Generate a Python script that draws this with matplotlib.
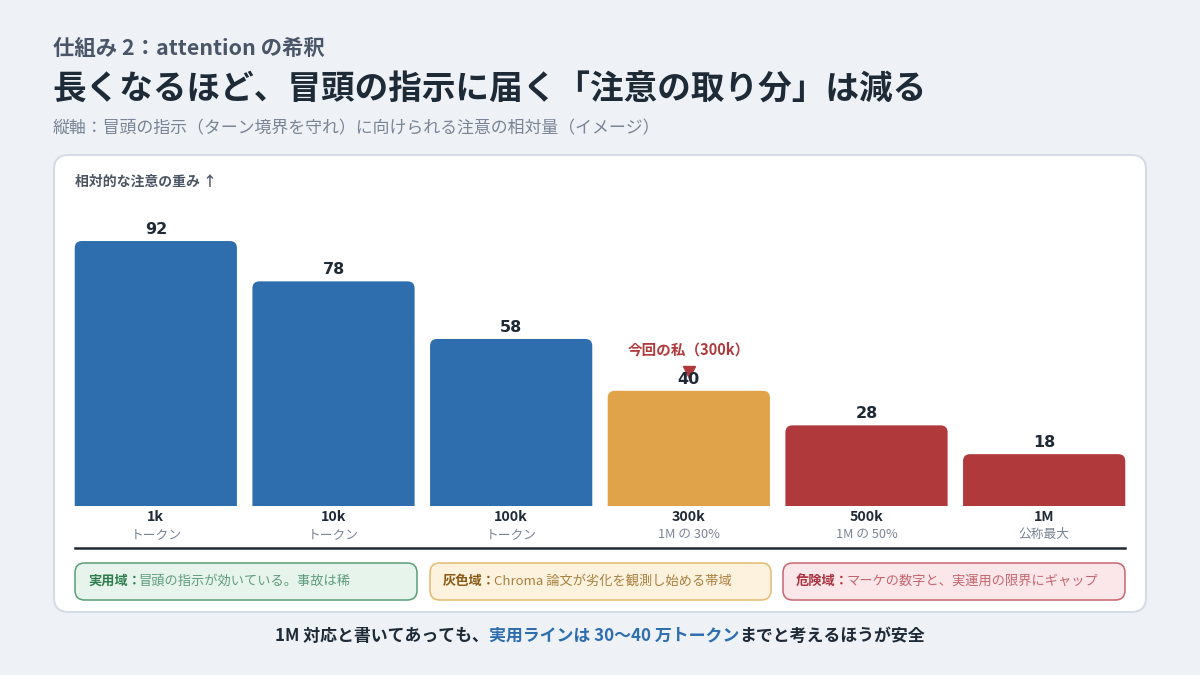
import matplotlib.pyplot as plt
import matplotlib.transforms as mtransforms
from matplotlib.patches import FancyBboxPatch, PathPatch
from matplotlib.path import Path

plt.rcParams['font.family'] = ['Noto Sans CJK JP', 'DejaVu Sans']

# data
sizes = ["1k", "10k", "100k", "300k", "500k", "1M"]
notes = ["トークン", "トークン", "トークン", "1M の 30%", "1M の 50%", "公称最大"]
weights = [92, 78, 58, 40, 28, 18]
zones = ["ok", "ok", "ok", "gray", "risk", "risk"]
marker_idx = 3
marker_label = "今回の私（300k）"
legend_heads = ["実用域", "灰色域", "危険域"]
legend_bodies = ["冒頭の指示が効いている。事故は稀",
                 "Chroma 論文が劣化を観測し始める帯域",
                 "マーケの数字と、実運用の限界にギャップ"]

bar_colors = {"ok": "#2E6EAE", "gray": "#E0A34A", "risk": "#B03A3B"}
W, H = 1200, 675
BG = "#EEF2F7"
DARK = "#1F2A37"


def fx(x):
    return x / W


def fy(y):
    return 1 - y / H


def top_rounded_bar(xc, width, height, rx, ry):
    x0, x1 = xc - width / 2, xc + width / 2
    verts = [(x0, 0), (x0, height - ry), (x0, height), (x0 + rx, height),
             (x1 - rx, height), (x1, height), (x1, height - ry), (x1, 0), (x0, 0)]
    codes = [Path.MOVETO, Path.LINETO, Path.CURVE3, Path.CURVE3,
             Path.LINETO, Path.CURVE3, Path.CURVE3, Path.LINETO, Path.CLOSEPOLY]
    return Path(verts, codes)


fig = plt.figure(figsize=(12, 6.75), dpi=100, facecolor=BG)

# header
fig.text(fx(53), fy(48), "仕組み 2：attention の希釈", fontsize=15.4, color="#4A5568",
         fontweight="bold", va="center", ha="left")
fig.text(fx(52), fy(90), "長くなるほど、冒頭の指示に届く「注意の取り分」は減る", fontsize=24.2,
         color=DARK, fontweight="bold", va="center", ha="left")
fig.text(fx(53), fy(128), "縦軸：冒頭の指示（ターン境界を守れ）に向けられる注意の相対量（イメージ）",
         fontsize=12.2, color="#7A8494", va="center", ha="left")

# card
card = FancyBboxPatch((fx(54), fy(612)), fx(1092), 457 / H,
                      boxstyle="round,pad=0,rounding_size=0.012",
                      mutation_aspect=W / H,
                      transform=fig.transFigure, facecolor="white",
                      edgecolor="#D5DCE6", linewidth=1.5, zorder=-1)
fig.patches.append(card)

fig.text(fx(75), fy(182), "相対的な注意の重み ↑", fontsize=10, color="#4B5563",
         fontweight="bold", va="center", ha="left")

# bars
left_px, right_px = 67, 1133
base_px, top_px = 506, 200
px_y = 2.88
ax = fig.add_axes([fx(left_px), fy(base_px), (right_px - left_px) / W, (base_px - top_px) / H])
ax.set_facecolor("none")
ax.set_zorder(2)
ax.set_xlim(-0.5, len(sizes) - 0.5)
ax.set_ylim(0, (base_px - top_px) / px_y)
ax.axis("off")

bw = 0.913
px_x = (right_px - left_px) / len(sizes)
r_px = 7
tr = mtransforms.blended_transform_factory(ax.transData, ax.transAxes)
for i, (v, z) in enumerate(zip(weights, zones)):
    c = bar_colors[z]
    ax.add_patch(PathPatch(top_rounded_bar(i, bw, v, r_px / px_x, r_px / px_y),
                           facecolor=c, edgecolor="none"))
    ax.annotate(str(v), (i, v), xytext=(0, 3), textcoords="offset points",
                ha="center", va="bottom", fontsize=11.5, fontweight="bold", color=DARK,
                family=["DejaVu Sans"], zorder=5)
    ax.annotate(sizes[i], (i, 0), xycoords=tr, xytext=(0, -8), textcoords="offset points",
                ha="center", va="center", fontsize=10.3, fontweight="bold", color=DARK,
                annotation_clip=False)
    ax.annotate(notes[i], (i, 0), xycoords=tr, xytext=(0, -20.5), textcoords="offset points",
                ha="center", va="center", fontsize=9.2, color="#7A8494",
                annotation_clip=False)

# marker for current position
mv = weights[marker_idx]
tri = mtransforms.offset_copy(ax.transData, fig=fig, x=0, y=13.5, units="points")
ax.plot([marker_idx], [mv], marker="v", markersize=8, color="#B03A3B",
        transform=tri, zorder=4, clip_on=False)
ax.annotate(marker_label, (marker_idx, mv), xytext=(0, 29.5), textcoords="offset points",
            ha="center", va="center", fontsize=10.5, fontweight="bold", color="#B03A3B")

# divider
fig.add_artist(plt.Line2D([fx(75), fx(1125)], [fy(548), fy(548)], color=DARK, linewidth=1.8))

# legend boxes
box_styles = [("#E6F4EC", "#5A9E78", "#2E7D4F", "#5F9C7A"),
              ("#FDF2DE", "#E3BA70", "#8A5A14", "#A9803F"),
              ("#FBE7E9", "#C86670", "#A8323F", "#C4646E")]
box_x = [(75, 417), (430, 771), (783, 1125)]
renderer = fig.canvas.get_renderer()
for (x0, x1), (fc, ec, hc, bc), head, body in zip(box_x, box_styles, legend_heads, legend_bodies):
    fig.patches.append(FancyBboxPatch((fx(x0), fy(600)), fx(x1 - x0), 37 / H,
                                      boxstyle="round,pad=0,rounding_size=0.008",
                                      mutation_aspect=W / H, transform=fig.transFigure,
                                      facecolor=fc, edgecolor=ec, linewidth=1.1))
    t1 = fig.text(fx(x0 + 13), fy(581), head + "：", fontsize=9.5, fontweight="bold",
                  color=hc, va="center", ha="left")
    bb = t1.get_window_extent(renderer)
    fig.text(bb.x1 / fig.bbox.width - 0.002, fy(581), body, fontsize=9.5, color=bc,
             va="center", ha="left")

# footer
parts = [("1M 対応と書いてあっても、", DARK),
         ("実用ラインは 30〜40 万トークン", "#2E6EAE"),
         ("までと考えるほうが安全", DARK)]
texts = [fig.text(0, fy(636), s, fontsize=12.2, fontweight="bold", color=c,
                  va="center", ha="left") for s, c in parts]
widths = [t.get_window_extent(renderer).width for t in texts]
x = (fig.bbox.width - sum(widths)) / 2
for t, w in zip(texts, widths):
    t.set_position((x / fig.bbox.width, fy(636)))
    x += w

fig.savefig("out.png", dpi=100, facecolor=BG)
